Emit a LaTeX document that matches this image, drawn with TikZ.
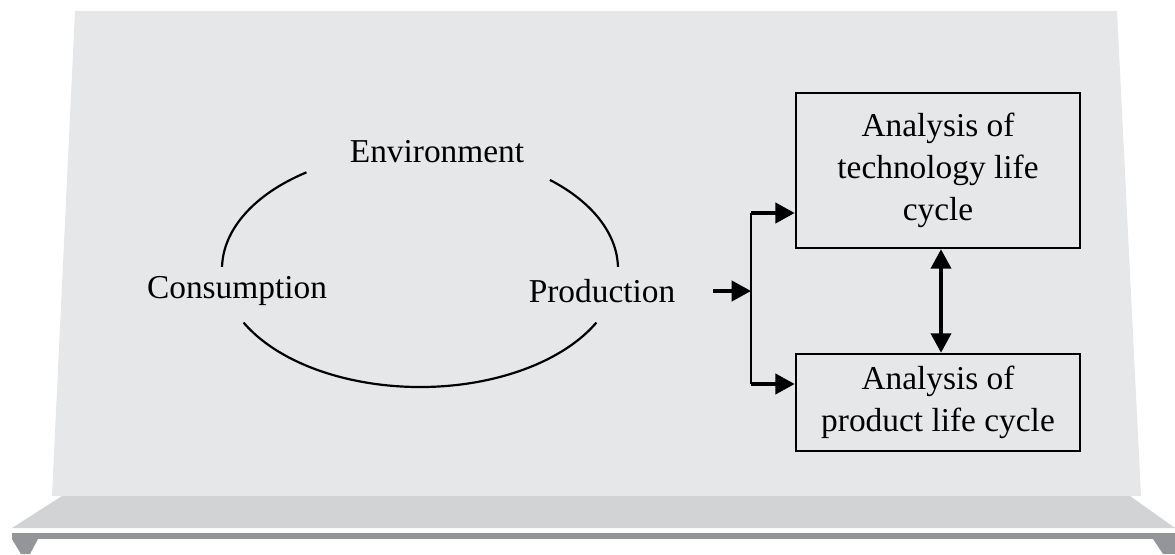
\documentclass[tikz,border=0pt]{standalone}
\usepackage{fontspec}
\setmainfont{Liberation Serif}
\usetikzlibrary{arrows.meta}
\definecolor{panel}{HTML}{E6E7E8}
\definecolor{shelf}{HTML}{D1D3D4}
\definecolor{bar}{HTML}{939598}
\tikzset{
  lbl/.style={font=\fontsize{19}{24}\selectfont, inner sep=0pt},
  boxnode/.style={draw, line width=1.5pt, minimum width={284*0.02cm}, align=center, font=\fontsize{19}{24}\selectfont, inner sep=0pt},
  cyc/.style={line width=1.25pt},
  arr/.style={line width=2pt, -{Triangle[length=11pt,width=11.5pt]}},
  darr/.style={line width=1.8pt, {Triangle[length=11pt,width=11.5pt]}-{Triangle[length=11pt,width=11.5pt]}},
}
\begin{document}
\begin{tikzpicture}[x=0.02cm, y=-0.02cm]
\useasboundingbox (0,0) rectangle (1175,554);
% backdrop
\fill[panel] (75,11) -- (1117,11) -- (1141,496) -- (52,496) -- cycle;
\fill[shelf] (62,496) -- (1130,496) -- (1175,528) -- (12,528) -- cycle;
\fill[bar] (12,533) rectangle (1175,539);
\fill[bar] (12,539) -- (38,539) -- (30,554) -- (21,554) -- cycle;
\fill[bar] (1153,539) -- (1175,539) -- (1175,554) -- (1163,554) -- cycle;
% cycle labels
\node[lbl] (env) at (437,152) {Environment};
\node[lbl] (cons) at (237,291) {Consumption};
\node[lbl] (prod) at (602,291) {Production};
\coordinate (c) at (420,269);
\draw[cyc] (c) ++(235:198 and 118) arc[start angle=235, end angle=181, x radius=198, y radius=118];
\draw[cyc] (c) ++(311:198 and 118) arc[start angle=311, end angle=359, x radius=198, y radius=118];
\draw[cyc] (c) ++(153:198 and 118) arc[start angle=153, end angle=27, x radius=198, y radius=118];
% boxes
\node[boxnode, minimum height={155*0.02cm}] (tech) at (938,170.5) {Analysis of\\technology life\\cycle};
\node[boxnode, minimum height={97*0.02cm}] (prodlc) at (938,402.5) {Analysis of\\product life cycle};
% connectors
\coordinate (in) at (713,291);
\coordinate (jm) at (751,291);
\coordinate (jt) at (751,213);
\coordinate (jb) at (751,384);
\coordinate (dx) at (941,0);
\draw[arr] (in) -- (jm);
\draw[line width=1.6pt] (jt) -- (jb);
\draw[arr] (jt) -- (tech.west |- jt);
\draw[arr] (jb) -- (prodlc.west |- jb);
\draw[darr] (tech.south -| dx) -- (prodlc.north -| dx);
\end{tikzpicture}
\end{document}
